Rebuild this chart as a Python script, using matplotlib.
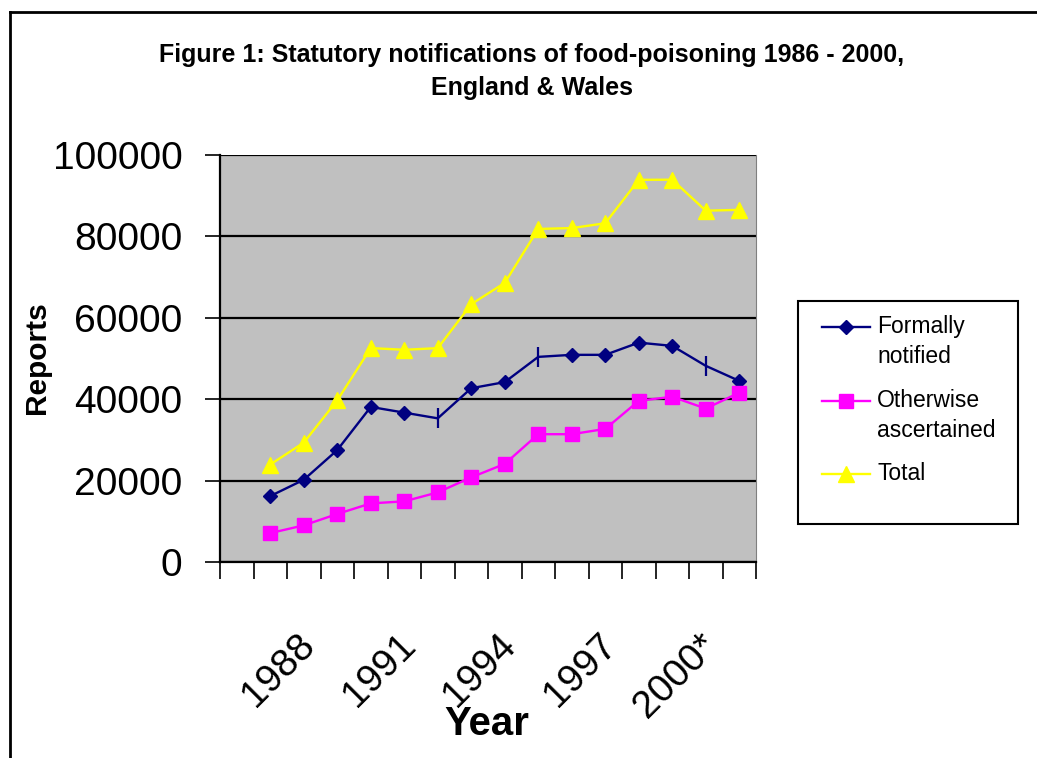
import numpy as np
import matplotlib
matplotlib.use("Agg")
import matplotlib.pyplot as plt
from matplotlib.lines import Line2D
from matplotlib.patches import Rectangle
import matplotlib.transforms as mtransforms

plt.rcParams['font.family'] = ['Liberation Sans', 'DejaVu Sans']

# first category is an empty row in the sheet
years = ['', '1986', '1987', '1988', '1989', '1990', '1991', '1992', '1993',
         '1994', '1995', '1996', '1997', '1998', '1999', '2000*']
formally = [np.nan, 16200, 20200, 27500, 38100, 36700, 35300, 42700, 44200,
            50400, 50900, 50900, 53900, 53100, 48200, 44500]
otherwise = [np.nan, 7100, 9000, 11800, 14400, 14900, 17100, 20800, 24100,
             31400, 31400, 32700, 39600, 40600, 37700, 41600]
total = [np.nan, 23948, 29331, 39713, 52557, 52145, 52543, 63347, 68587,
         81833, 82041, 83233, 93901, 93932, 86316, 86528]

NAVY = '#000080'
MAGENTA = '#FF00FF'
YELLOW = '#FFFF00'

W, H = 1037, 758
fig = plt.figure(figsize=(W / 100, H / 100), dpi=100)
ax = fig.add_axes([220 / W, 1 - 562 / H, 536 / W, 407 / H])
ax.set_facecolor('#C0C0C0')

x = np.arange(len(years))

# a few of the diamonds come out as bars in the old export
bar_pts = [6, 9, 14]
diamond_pts = [i for i in range(1, len(years)) if i not in bar_pts]

ax.plot(x, formally, color=NAVY, lw=1.7, marker='D', ms=7,
        markevery=diamond_pts, zorder=4)
ax.plot(x, formally, color=NAVY, lw=0, marker='|', ms=14, mew=1.6,
        markevery=bar_pts, zorder=4)
ax.plot(x, otherwise, color=MAGENTA, lw=1.7, marker='s', ms=10, zorder=4)
ax.plot(x, total, color=YELLOW, lw=1.7, marker='^', ms=12, zorder=4)

ax.set_xlim(-0.5, len(years) - 0.5)
ax.set_ylim(0, 100000)
ax.set_yticks(np.arange(0, 100001, 20000))
ax.yaxis.grid(True, color='black', lw=1.6)
ax.set_axisbelow(True)
ax.tick_params(axis='y', direction='out', length=11, width=1.2,
               labelsize=28, pad=16)

# ticks between categories, labels every third category
ax.set_xticks(np.arange(-0.5, len(years)), [''] * (len(years) + 1))
ax.set_xticks(x[::3], minor=True)
ax.set_xticklabels(years[::3], minor=True, rotation=45, ha='right',
                   va='center', rotation_mode='anchor')
ax.tick_params(axis='x', which='major', direction='out', length=12, width=1.2)
ax.tick_params(axis='x', which='minor', length=0, labelsize=28, pad=56)
shift = mtransforms.ScaledTranslation(-20 / 72, 0, fig.dpi_scale_trans)
for lbl in ax.get_xticklabels(minor=True):
    lbl.set_transform(lbl.get_transform() + shift)

for side in ('left', 'bottom'):
    ax.spines[side].set_color('black')
    ax.spines[side].set_linewidth(1.6)
ax.spines['top'].set_visible(False)
ax.spines['right'].set_color('#808080')
ax.spines['right'].set_linewidth(0.8)

fig.text(37 / W, 1 - 358 / H, 'Reports', rotation=90, fontsize=21.5,
         fontweight='bold', ha='center', va='center')
fig.text(487 / W, 1 - 724 / H, 'Year', fontsize=29, fontweight='bold',
         ha='center', va='center')
fig.text(532 / W, 1 - 55 / H,
         'Figure 1: Statutory notifications of food-poisoning 1986 - 2000,',
         fontsize=18, fontweight='bold', ha='center', va='center')
fig.text(532 / W, 1 - 88 / H, 'England & Wales', fontsize=18,
         fontweight='bold', ha='center', va='center')

# outer chart frame (runs off the right and bottom edges)
fig.add_artist(Line2D([10 / W, 1], [1 - 11.5 / H] * 2, color='black', lw=2))
fig.add_artist(Line2D([10 / W] * 2, [0, 1 - 11.5 / H], color='black', lw=2))

# legend box
lx0, lx1, ly0, ly1 = 798, 1018, 301, 524
lax = fig.add_axes([lx0 / W, 1 - ly1 / H, (lx1 - lx0) / W, (ly1 - ly0) / H])
lax.set_xlim(lx0, lx1)
lax.set_ylim(ly1, ly0)
lax.axis('off')
lax.add_patch(Rectangle((lx0, ly0), lx1 - lx0, ly1 - ly0, fill=False,
                        edgecolor='black', lw=1.5, clip_on=False))
entries = [
    (327, NAVY, 'D', 7, ['Formally', 'notified']),
    (401, MAGENTA, 's', 10, ['Otherwise', 'ascertained']),
    (474, YELLOW, '^', 11, ['Total']),
]
for yy, col, mk, ms, lines in entries:
    lax.plot([822, 870], [yy, yy], color=col, lw=1.7)
    lax.plot([846], [yy], color=col, marker=mk, ms=ms)
    for k, txt in enumerate(lines):
        lax.text(877, yy + k * 29.5, txt, fontsize=16.5, ha='left',
                 va='center')

fig.savefig('out.png', dpi=100)
